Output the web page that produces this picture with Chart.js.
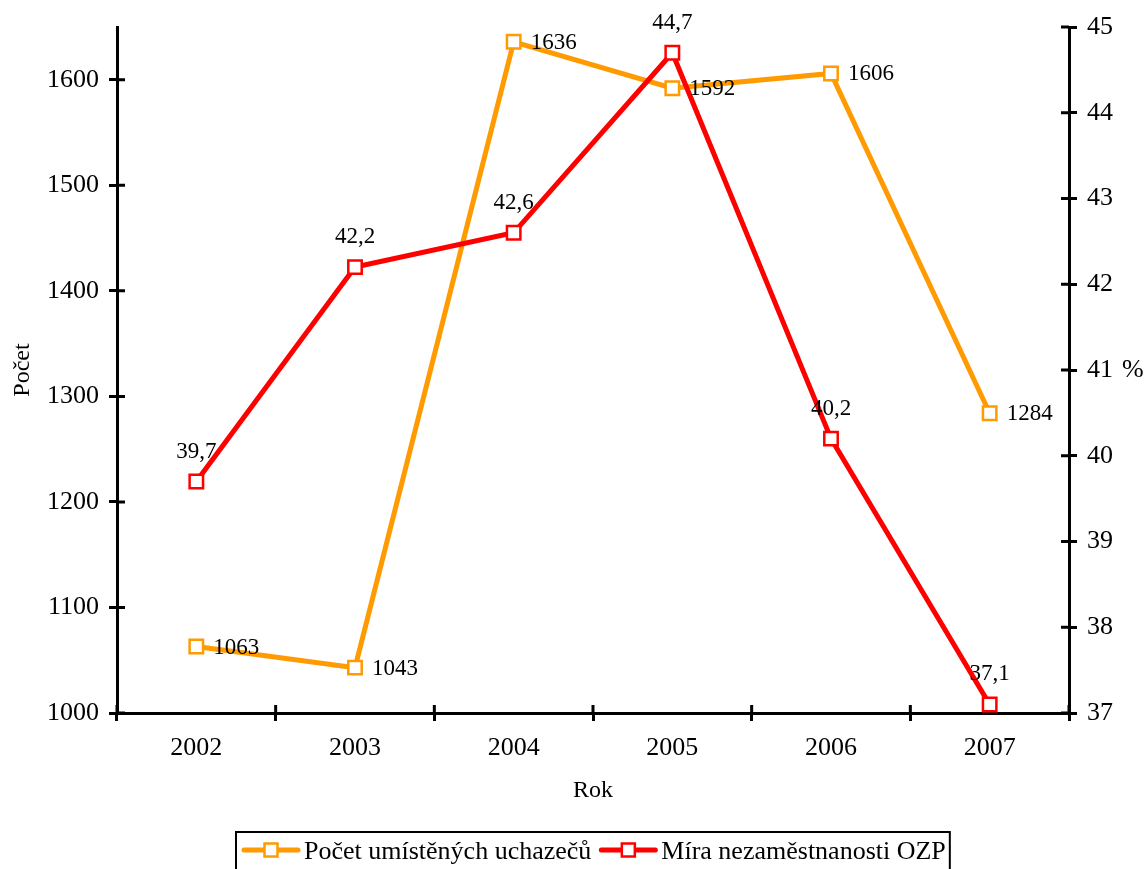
<!DOCTYPE html>
<html>
<head>
<meta charset="utf-8">
<script src="https://cdn.jsdelivr.net/npm/chart.js@4/dist/chart.umd.min.js"></script>
<style>
  html, body { margin: 0; padding: 0; background: #ffffff; }
  #wrap { width: 1146px; height: 869px; }
</style>
</head>
<body>
<div id="wrap"><canvas id="c" width="1146" height="869"></canvas></div>
<script>
// Years on the x axis
const years = ['2002', '2003', '2004', '2005', '2006', '2007'];
// Number of placed job applicants (left axis)
const placedApplicants = [1063, 1043, 1636, 1592, 1606, 1284];
// Unemployment rate of disabled persons, % (right axis)
const unemploymentRate = [39.7, 42.2, 42.6, 44.7, 40.2, 37.1];
// Tick values on both value axes
const countTicks = [1000, 1100, 1200, 1300, 1400, 1500, 1600];
const rateTicks = [37, 38, 39, 40, 41, 42, 43, 44, 45];

const SERIES_NAMES = ['Počet umístěných uchazečů', 'Míra nezaměstnanosti OZP'];
const FONT = "'Liberation Serif', 'Times New Roman', serif";
const ORANGE = '#FF9A00';
const RED = '#FF0000';

const fmtRate = v => v.toFixed(1).replace('.', ',');
const fmtCount = v => String(v);

// Value labels next to each point
const valueLabels = {
  id: 'valueLabels',
  afterDatasetsDraw(chart) {
    const ctx = chart.ctx;
    ctx.save();
    ctx.font = '23px ' + FONT;
    ctx.fillStyle = '#000';
    chart.data.datasets.forEach((ds, i) => {
      const meta = chart.getDatasetMeta(i);
      meta.data.forEach((pt, j) => {
        const v = ds.data[j];
        if (ds.labelSide === 'right') {
          ctx.textAlign = 'left';
          ctx.textBaseline = 'middle';
          ctx.fillText(fmtCount(v), pt.x + 17, pt.y + 1);
        } else {
          ctx.textAlign = 'center';
          ctx.textBaseline = 'middle';
          ctx.fillText(fmtRate(v), pt.x, pt.y - 30);
        }
      });
    });
    ctx.restore();
  }
};

// Inner halves of the tick marks so they cross the axis lines, plus the "%" unit
const axisExtras = {
  id: 'axisExtras',
  afterDraw(chart) {
    const ctx = chart.ctx;
    const a = chart.chartArea;
    const len = 8;
    ctx.save();
    ctx.strokeStyle = '#000';
    ctx.lineWidth = 3;
    ctx.beginPath();
    const yL = chart.scales.y, yR = chart.scales.y1, x = chart.scales.x;
    countTicks.forEach(v => { const p = yL.getPixelForValue(v); ctx.moveTo(a.left, p); ctx.lineTo(a.left + len, p); });
    rateTicks.forEach(v => { const p = yR.getPixelForValue(v); ctx.moveTo(a.right, p); ctx.lineTo(a.right - len, p); });
    for (let i = 0; i <= years.length; i++) {
      const p = x.getPixelForValue(i - 0.5);
      ctx.moveTo(p, a.bottom); ctx.lineTo(p, a.bottom - len);
    }
    ctx.stroke();

    ctx.font = '26px ' + FONT;
    ctx.fillStyle = '#000';
    ctx.textAlign = 'left';
    ctx.textBaseline = 'middle';
    ctx.fillText('%', 1122, (a.top + a.bottom) / 2);
    ctx.restore();
  }
};

// Boxed legend below the axis title
const boxedLegend = {
  id: 'boxedLegend',
  afterDraw(chart) {
    const ctx = chart.ctx;
    ctx.save();
    ctx.font = '26px ' + FONT;
    const items = chart.data.datasets.map(ds => ({
      label: ds.label, color: ds.borderColor, w: ctx.measureText(ds.label).width
    }));
    const marker = 58, gap = 4, between = 8, padL = 6, padR = 4;
    const contentW = items.reduce((s, it) => s + marker + gap + it.w, 0) + between * (items.length - 1);
    const boxW = contentW + padL + padR;
    const cx = (chart.chartArea.left + chart.chartArea.right) / 2;
    const x0 = Math.round(cx - boxW / 2);
    const top = 832, y = 850;
    ctx.strokeStyle = '#000';
    ctx.lineWidth = 2;
    ctx.strokeRect(x0, top, boxW, 60);
    let xp = x0 + padL;
    items.forEach(it => {
      ctx.strokeStyle = it.color;
      ctx.lineWidth = 5;
      ctx.lineCap = 'round';
      ctx.beginPath();
      ctx.moveTo(xp + 2, y); ctx.lineTo(xp + marker - 2, y);
      ctx.stroke();
      const sx = xp + marker / 2;
      ctx.fillStyle = '#fff';
      ctx.fillRect(sx - 6.5, y - 6.5, 13, 13);
      ctx.lineWidth = 2.5;
      ctx.strokeRect(sx - 6.5, y - 6.5, 13, 13);
      ctx.fillStyle = '#000';
      ctx.textAlign = 'left';
      ctx.textBaseline = 'middle';
      ctx.fillText(it.label, xp + marker + gap, y + 2);
      xp += marker + gap + it.w + between;
    });
    ctx.restore();
  }
};

const axisGrid = {
  drawOnChartArea: false, drawTicks: true, tickLength: 8, color: '#000', lineWidth: 3
};

new Chart(document.getElementById('c'), {
  type: 'line',
  data: {
    labels: years,
    datasets: [
      {
        label: SERIES_NAMES[0],
        data: placedApplicants,
        yAxisID: 'y',
        borderColor: ORANGE,
        backgroundColor: '#ffffff',
        borderWidth: 5,
        pointStyle: 'rect',
        pointRadius: 9.5,
        pointBorderWidth: 2.5,
        pointBackgroundColor: '#ffffff',
        pointBorderColor: ORANGE,
        tension: 0,
        order: 1,
        labelSide: 'right'
      },
      {
        label: SERIES_NAMES[1],
        data: unemploymentRate,
        yAxisID: 'y1',
        borderColor: RED,
        backgroundColor: '#ffffff',
        borderWidth: 5,
        pointStyle: 'rect',
        pointRadius: 9.5,
        pointBorderWidth: 2.5,
        pointBackgroundColor: '#ffffff',
        pointBorderColor: RED,
        tension: 0,
        order: 0,
        labelSide: 'top'
      }
    ]
  },
  options: {
    responsive: false,
    animation: false,
    devicePixelRatio: 1,
    layout: { padding: { top: 27, left: 0, right: 0, bottom: 0 } },
    plugins: { legend: { display: false }, tooltip: { enabled: false } },
    scales: {
      x: {
        type: 'category',
        offset: true,
        grid: Object.assign({ offset: true }, axisGrid),
        border: { color: '#000', width: 3 },
        ticks: { color: '#000', font: { family: FONT, size: 26 }, padding: 12 },
        title: { display: true, text: 'Rok', color: '#000', font: { family: FONT, size: 24 }, padding: { top: 0, bottom: 64 } },
        afterFit(s) { s.height = 156; s.paddingLeft = 0; s.paddingRight = 0; }
      },
      y: {
        position: 'left',
        min: 1000,
        max: 1650,
        grid: axisGrid,
        border: { color: '#000', width: 3 },
        ticks: { color: '#000', font: { family: FONT, size: 26 }, padding: 10, stepSize: 100, callback: v => String(v) },
        afterBuildTicks(s) { s.ticks = countTicks.map(v => ({ value: v })); },
        title: { display: true, text: 'Počet', color: '#000', font: { family: FONT, size: 24 }, padding: { top: 8, bottom: 0 } },
        afterFit(s) { s.width = 117; s.paddingTop = 0; s.paddingBottom = 0; }
      },
      y1: {
        position: 'right',
        min: 37,
        max: 45,
        grid: axisGrid,
        border: { color: '#000', width: 3 },
        ticks: { color: '#000', font: { family: FONT, size: 26 }, padding: 10, stepSize: 1, callback: v => String(v) },
        afterBuildTicks(s) { s.ticks = rateTicks.map(v => ({ value: v })); },
        afterFit(s) { s.width = 77; s.paddingTop = 0; s.paddingBottom = 0; }
      }
    }
  },
  plugins: [valueLabels, axisExtras, boxedLegend]
});
</script>
</body>
</html>
